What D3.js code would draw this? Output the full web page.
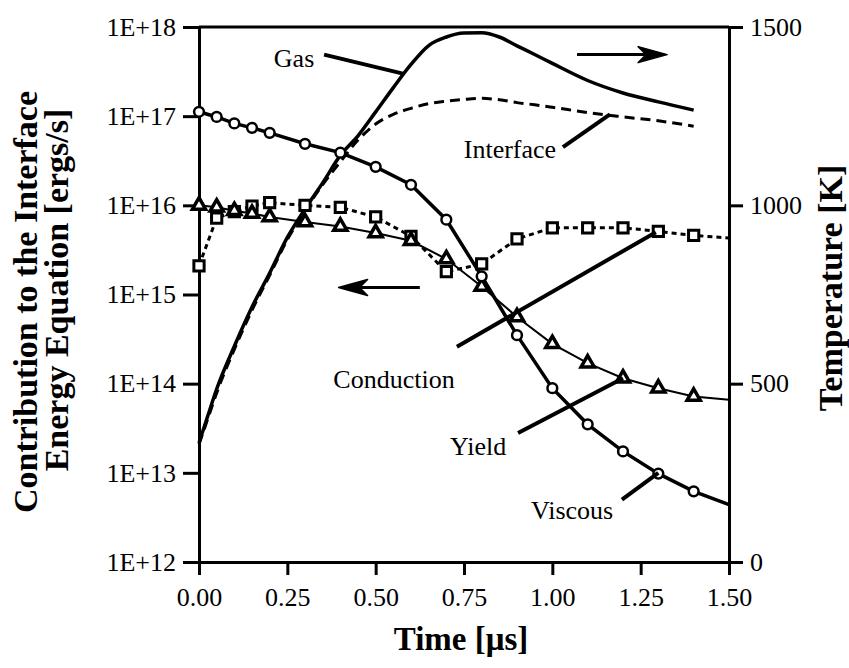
<!DOCTYPE html>
<html>
<head>
<meta charset="utf-8">
<script src="https://cdn.jsdelivr.net/npm/d3@7"></script>
<style>
  body { margin: 0; background: #fff; }
  text { font-family: "Liberation Serif", "Times New Roman", serif; fill: #000; }
</style>
</head>
<body>
<div id="chart"></div>
<script>
// time grid of the energy terms [us]
var time = [0, 0.05, 0.1, 0.15, 0.2, 0.3, 0.4, 0.5, 0.6, 0.7, 0.8, 0.9, 1.0, 1.1, 1.2, 1.3, 1.4, 1.5];
// contributions [ergs/s]
var viscous = [1.12e17, 9.8e16, 8.3e16, 7.4e16, 6.5e16, 4.9e16, 3.9e16, 2.7e16, 1.7e16, 6.9e15,
               1.6e15, 3.5e14, 8.9e13, 3.5e13, 1.74e13, 9.8e12, 6.2e12, 4.4e12];
var yieldTerm = [1.0e16, 9.5e15, 8.7e15, 8.1e15, 7.4e15, 6.5e15, 5.8e15, 4.9e15, 4.0e15, 2.5e15,
                 1.23e15, 5.6e14, 2.8e14, 1.7e14, 1.15e14, 8.9e13, 7.2e13, 6.6e13];
var conduction = [2.1e15, 7.2e15, 8.5e15, 9.8e15, 1.07e16, 1.0e16, 9.5e15, 7.4e15, 4.5e15, 1.8e15,
                  2.2e15, 4.2e15, 5.6e15, 5.6e15, 5.6e15, 5.1e15, 4.6e15, 4.3e15];

// temperatures [K] (right axis)
var tempTime = [0, 0.025, 0.05, 0.1, 0.15, 0.2, 0.25, 0.3, 0.35, 0.4, 0.45, 0.5, 0.55, 0.6, 0.65,
                0.7, 0.75, 0.8, 0.85, 0.9, 0.95, 1.0, 1.1, 1.2, 1.3, 1.4];
var gasTemp = [334, 410, 485, 605, 715, 810, 910, 990, 1063, 1140, 1195, 1262, 1330, 1395, 1448,
               1472, 1483, 1484, 1472, 1447, 1423, 1398, 1350, 1315, 1290, 1267];
var interfaceTemp = [330, 402, 474, 596, 706, 804, 904, 985, 1058, 1122, 1183, 1228, 1255, 1272, 1285,
                     1292, 1297, 1300, 1296, 1288, 1282, 1275, 1260, 1248, 1237, 1222];

// axes
var xTicks = [0, 0.25, 0.5, 0.75, 1.0, 1.25, 1.5];
var yTicks = [1e12, 1e13, 1e14, 1e15, 1e16, 1e17, 1e18];
var tempTicks = [0, 500, 1000, 1500];

// annotations, in data units of the left axis
var labelText = ["Gas", "Interface", "Conduction", "Yield", "Viscous"];
var labelT    = [0.269, 0.88, 0.552, 0.79, 1.056];
var labelV    = [3.6e17, 3.4e16, 8.9e13, 1.6e13, 3.0e12];
var leaderFrom = [[0.354, 4.9e17], [1.03, 4.5e16], [0.73, 2.6e14], [0.903, 2.8e13], [1.197, 5.0e12]];
var leaderTo   = [[0.577, 3.0e17], [1.163, 1.05e17], [1.293, 5.0e15], [1.2, 1.15e14], [1.30, 1.0e13]];
// arrows: tail t, tip t, level
var arrowTail = [1.07, 0.625];
var arrowTip  = [1.325, 0.395];
var arrowV    = [4.9e17, 1.2e15];

var width = 849, height = 668;
var margin = {top: 27, right: 120, bottom: 106, left: 199};

var svg = d3.select("#chart").append("svg")
  .attr("width", width)
  .attr("height", height);

var x = d3.scaleLinear().domain([0, 1.5]).range([margin.left, width - margin.right]);
var y = d3.scaleLog().domain([1e12, 1e18]).range([height - margin.bottom, margin.top]);
var yT = d3.scaleLinear().domain([0, 1500]).range([height - margin.bottom, margin.top]);

// frame top line
svg.append("line")
  .attr("x1", x(0)).attr("x2", x(1.5))
  .attr("y1", y(1e18)).attr("y2", y(1e18))
  .attr("stroke", "#000").attr("stroke-width", 3);

function styleAxis(g) {
  g.select(".domain").attr("stroke-width", 3);
  g.selectAll(".tick line").attr("stroke-width", 3);
  g.selectAll(".tick text").attr("font-size", "26px").attr("font-family", "Liberation Serif, serif");
}

svg.append("g")
  .attr("transform", "translate(0," + y(1e12) + ")")
  .call(d3.axisBottom(x).tickValues(xTicks).tickFormat(d3.format(".2f")).tickSize(13).tickSizeOuter(0).tickPadding(13))
  .call(styleAxis);

svg.append("g")
  .attr("transform", "translate(" + x(0) + ",0)")
  .call(d3.axisLeft(y).tickValues(yTicks)
    .tickFormat(function(d) { return "1E+" + Math.round(Math.log10(d)); })
    .tickSize(16).tickSizeOuter(0).tickPadding(7))
  .call(styleAxis);

svg.append("g")
  .attr("transform", "translate(" + x(1.5) + ",0)")
  .call(d3.axisRight(yT).tickValues(tempTicks).tickFormat(d3.format("d")).tickSize(14).tickSizeOuter(0).tickPadding(7))
  .call(styleAxis);

// axis titles
svg.append("text")
  .attr("transform", "translate(37,302) rotate(-90)")
  .attr("text-anchor", "middle")
  .attr("font-weight", "bold").attr("font-size", "34px")
  .text("Contribution  to  the  Interface");
svg.append("text")
  .attr("transform", "translate(68,290) rotate(-90)")
  .attr("text-anchor", "middle")
  .attr("font-weight", "bold").attr("font-size", "34px")
  .text("Energy  Equation  [ergs/s]");
svg.append("text")
  .attr("transform", "translate(842,288) rotate(-90)")
  .attr("text-anchor", "middle")
  .attr("font-weight", "bold").attr("font-size", "34px")
  .text("Temperature  [K]");
svg.append("text")
  .attr("x", 461).attr("y", 650)
  .attr("text-anchor", "middle")
  .attr("font-weight", "bold").attr("font-size", "33px")
  .text("Time  [\u03bcs]");

// temperature curves
var tempLine = d3.line()
  .x(function(d) { return x(d[0]); })
  .y(function(d) { return yT(d[1]); })
  .curve(d3.curveMonotoneX);

svg.append("path")
  .datum(d3.zip(tempTime, interfaceTemp))
  .attr("d", tempLine)
  .attr("fill", "none").attr("stroke", "#000")
  .attr("stroke-width", 3).attr("stroke-dasharray", "10,6");

svg.append("path")
  .datum(d3.zip(tempTime, gasTemp))
  .attr("d", tempLine)
  .attr("fill", "none").attr("stroke", "#000")
  .attr("stroke-width", 3.5);

// energy curves
var line = d3.line()
  .x(function(d) { return x(d[0]); })
  .y(function(d) { return y(d[1]); });

var series = [
  {values: conduction, width: 3, dash: "5,4", marker: "square"},
  {values: yieldTerm, width: 2, dash: null, marker: "triangle"},
  {values: viscous, width: 3.5, dash: null, marker: "circle"}
];

series.forEach(function(s) {
  var pts = d3.zip(time, s.values);
  svg.append("path")
    .datum(pts)
    .attr("d", line)
    .attr("fill", "none").attr("stroke", "#000")
    .attr("stroke-width", s.width)
    .attr("stroke-dasharray", s.dash);

  var sym = d3.symbol()
    .type(s.marker == "square" ? d3.symbolSquare : s.marker == "triangle" ? d3.symbolTriangle : d3.symbolCircle)
    .size(s.marker == "square" ? 105 : s.marker == "triangle" ? 75 : 75);

  svg.append("g").selectAll("path")
    .data(pts.filter(function(d) { return d[0] < 1.45; }))
    .enter().append("path")
      .attr("transform", function(d) { return "translate(" + x(d[0]) + "," + y(d[1]) + ")"; })
      .attr("d", sym)
      .attr("fill", "#fff").attr("stroke", "#000")
      .attr("stroke-width", s.marker == "circle" ? 2.5 : s.marker == "triangle" ? 3.5 : 3);
});

// leader lines and labels
svg.append("g").selectAll("line")
  .data(d3.zip(leaderFrom, leaderTo))
  .enter().append("line")
    .attr("x1", function(d) { return x(d[0][0]); })
    .attr("y1", function(d) { return y(d[0][1]); })
    .attr("x2", function(d) { return x(d[1][0]); })
    .attr("y2", function(d) { return y(d[1][1]); })
    .attr("stroke", "#000").attr("stroke-width", 4);

svg.append("g").selectAll("text")
  .data(d3.zip(labelText, labelT, labelV))
  .enter().append("text")
    .attr("x", function(d) { return x(d[1]); })
    .attr("y", function(d) { return y(d[2]); })
    .attr("text-anchor", "middle")
    .attr("font-size", "26px")
    .text(function(d) { return d[0]; });

// arrows, with a narrow filled head
d3.zip(arrowTail, arrowTip, arrowV).forEach(function(a) {
  var x0 = x(a[0]), x1 = x(a[1]), yy = y(a[2]);
  var dir = x1 > x0 ? 1 : -1;
  svg.append("line")
    .attr("x1", x0).attr("x2", x1 - dir * 10)
    .attr("y1", yy).attr("y2", yy)
    .attr("stroke", "#000").attr("stroke-width", 3);
  svg.append("path")
    .attr("d", "M" + x1 + "," + yy +
               "L" + (x1 - dir * 29) + "," + (yy - 8) +
               "L" + (x1 - dir * 21) + "," + yy +
               "L" + (x1 - dir * 29) + "," + (yy + 8) + "Z")
    .attr("fill", "#000").attr("stroke", "#000").attr("stroke-width", 1.5)
    .attr("stroke-linejoin", "round");
});
</script>
</body>
</html>
